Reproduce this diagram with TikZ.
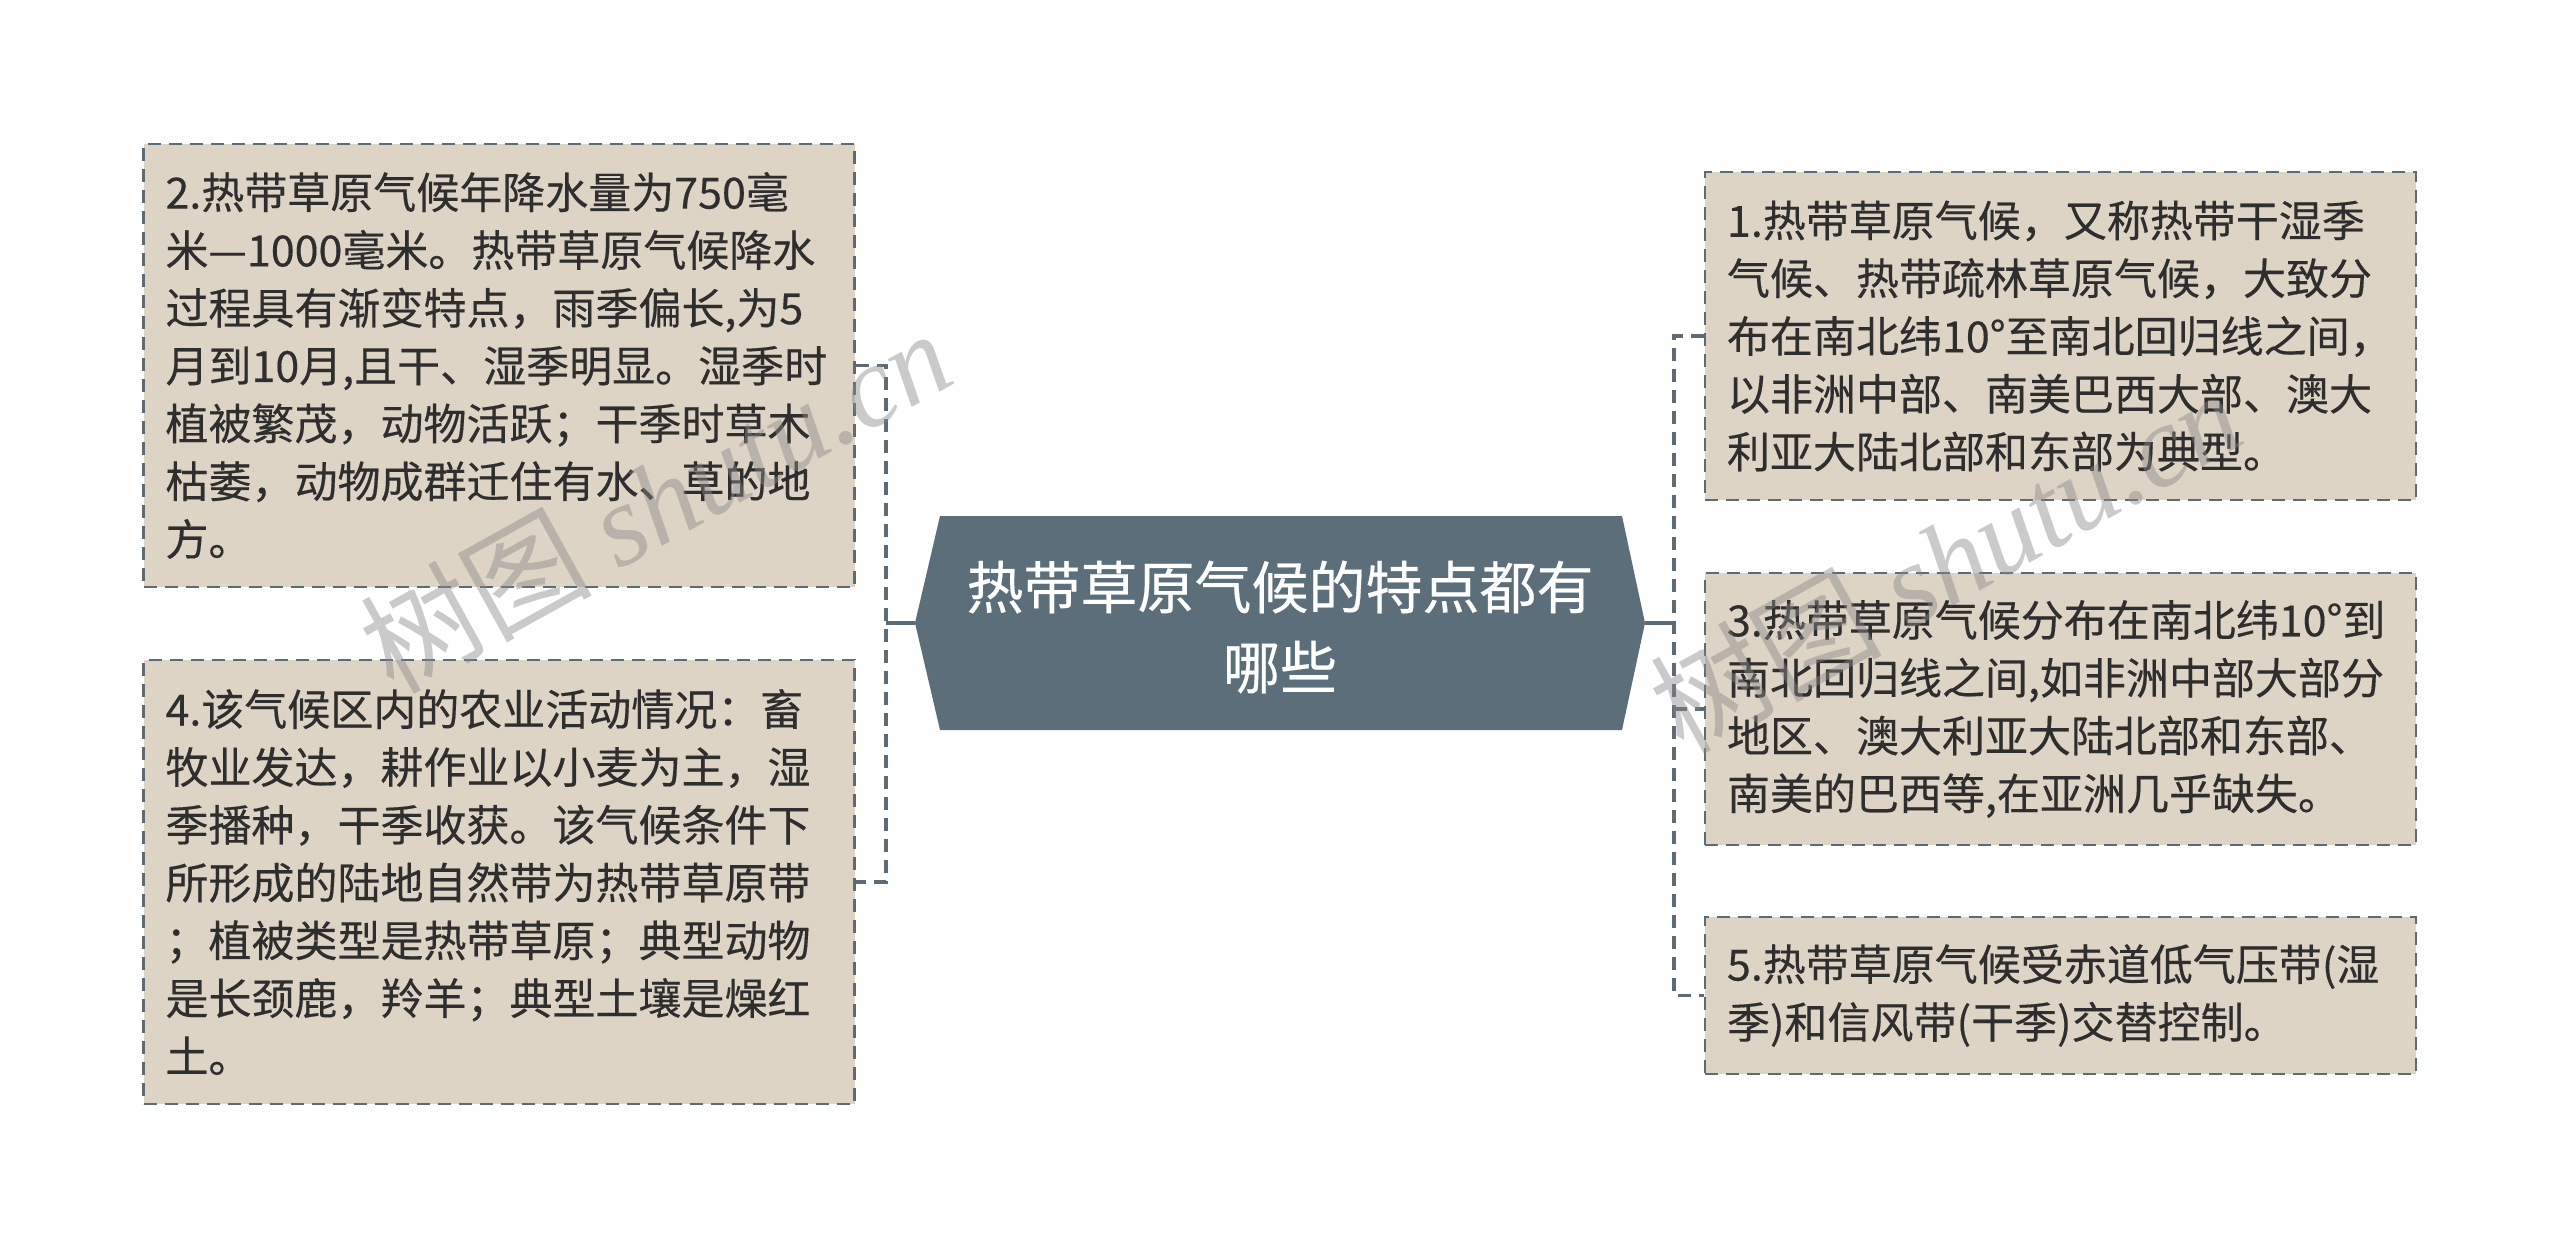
\documentclass[tikz,border=0pt]{standalone}
\usepackage{fontspec}
\setmainfont{Noto Sans CJK SC}[FakeBold=0.35]
\newfontfamily\wmlatin{Liberation Serif}
\newfontfamily\wmcjk{Noto Sans CJK SC}
\definecolor{hubfill}{HTML}{5B6E7A}
\definecolor{boxfill}{HTML}{DED4C5}
\definecolor{boxline}{HTML}{5C6B75}
\definecolor{txt}{HTML}{2E2E2E}
\definecolor{wm}{HTML}{8A8A8A}
\tikzset{
  leaf/.style={draw=boxline, fill=boxfill, line width=2.6pt, dash pattern=on 13pt off 8pt,
    rectangle, minimum width=711pt, inner xsep=22pt, inner ysep=0pt,
    text width=667pt, align=left, text=txt, font=\fontsize{43}{57.8}\selectfont},
  conn/.style={draw=boxline, line width=3.6pt, dash pattern=on 13pt off 8pt},
  connsolid/.style={draw=boxline, line width=3.6pt},
  hubtext/.style={text=white, align=center, font=\fontsize{57}{80}\selectfont, inner sep=0pt},
  wmark/.style={text=wm, opacity=0.45, rotate=29, font=\wmcjk\fontsize{116}{116}\selectfont, inner sep=0pt}
}
\begin{document}
\begin{tikzpicture}[x=1pt,y=-1pt]
\useasboundingbox (0,0) rectangle (2560,1247);
\fill[white] (0,0) rectangle (2560,1247);

% hub
\fill[hubfill] (940,516) -- (1622,516) -- (1645,623) -- (1622,730) -- (940,730) -- (915,623) -- cycle;
\node[hubtext] (hub) at (1280,627) {热带草原气候的特点都有\\哪些};
\coordinate (hubL) at (915,623);
\coordinate (hubR) at (1645,623);
\coordinate (jl) at (886,623);
\coordinate (jr) at (1674,623);

% leaves
\node[leaf, minimum height=443pt] (b2) at (499,365.5) {2.热带草原气候年降水量为750毫\\米—1000毫米。热带草原气候降水\\过程具有渐变特点，雨季偏长,为5\\月到10月,且干、湿季明显。湿季时\\植被繁茂，动物活跃；干季时草木\\枯萎，动物成群迁住有水、草的地\\方。};
\node[leaf, minimum height=444pt] (b4) at (499,882) {4.该气候区内的农业活动情况：畜\\牧业发达，耕作业以小麦为主，湿\\季播种，干季收获。该气候条件下\\所形成的陆地自然带为热带草原带\\；植被类型是热带草原；典型动物\\是长颈鹿，羚羊；典型土壤是燥红\\土。};
\node[leaf, minimum height=328pt] (b1) at (2060.5,336) {1.热带草原气候，又称热带干湿季\\气候、热带疏林草原气候，大致分\\布在南北纬10°至南北回归线之间，\\以非洲中部、南美巴西大部、澳大\\利亚大陆北部和东部为典型。};
\node[leaf, minimum height=272pt] (b3) at (2060.5,709) {3.热带草原气候分布在南北纬10°到\\南北回归线之间,如非洲中部大部分\\地区、澳大利亚大陆北部和东部、\\南美的巴西等,在亚洲几乎缺失。};
\node[leaf, minimum height=157pt] (b5) at (2060.5,995.5) {5.热带草原气候受赤道低气压带(湿\\季)和信风带(干季)交替控制。};

% connectors
\draw[connsolid] (hubL) -- (jl);
\draw[connsolid] (hubR) -- (jr);
\draw[conn] (b2.east) -- (b2.east -| jl) -- (b4.east -| jl) -- (b4.east);
\draw[conn] (b1.west) -- (b1.west -| jr) -- (b5.west -| jr) -- (b5.west);
\draw[conn] (jr |- b3.west) -- (b3.west);

% watermarks
\node[wmark] (wm1) at (655,500) {树图 {\wmlatin\itshape shutu.cn}};
\node[wmark] (wm2) at (1945,560) {树图 {\wmlatin\itshape shutu.cn}};
\end{tikzpicture}
\end{document}
